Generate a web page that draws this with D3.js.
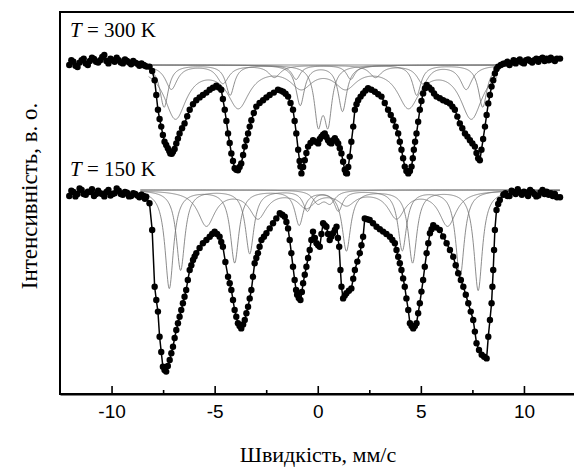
<!DOCTYPE html>
<html><head><meta charset="utf-8">
<script src="https://cdn.jsdelivr.net/npm/d3@7"></script>
<style>body{margin:0;background:#fff}</style></head><body>
<svg id="c" width="574" height="469"></svg>
<script>
// ---------- data ----------
const xMajorTicks = [-10, -5, 0, 5, 10];
const xMinorTicks = [-7.5, -2.5, 2.5, 7.5];
const spectrumLabels = ["300 K", "150 K"];
const offsets = [0.3125, 0];   // vertical shift of the 300 K spectrum

// 300 K: [velocity mm/s, relative transmission]
const spectrum300 = [
[-12.05,1.000],[-11.95,1.012],[-11.85,1.008],[-11.75,0.998],[-11.65,0.995],[-11.55,1.006],[-11.45,1.012],[-11.35,1.016],[-11.25,1.004],[-11.15,1.000],
[-11.05,1.010],[-10.95,1.018],[-10.85,1.015],[-10.75,1.008],[-10.65,1.006],[-10.55,1.012],[-10.45,1.020],[-10.35,1.025],[-10.25,1.010],[-10.15,1.004],
[-10.05,1.016],[-9.95,1.012],[-9.85,1.008],[-9.75,1.018],[-9.65,1.012],[-9.55,1.006],[-9.45,1.004],[-9.35,1.014],[-9.25,1.010],[-9.15,1.006],
[-9.05,1.002],[-8.95,1.010],[-8.85,1.006],[-8.75,1.003],[-8.65,0.998],[-8.55,1.004],[-8.45,1.000],[-8.38,0.998],[-8.30,0.996],
[-8.16,0.996],[-8.03,0.985],[-7.91,0.962],[-7.83,0.925],[-7.75,0.888],[-7.67,0.865],[-7.59,0.846],[-7.51,0.825],[-7.43,0.808],[-7.35,0.800],
[-7.27,0.792],[-7.20,0.785],[-7.15,0.779],[-7.08,0.778],[-7.02,0.783],[-6.94,0.790],[-6.86,0.804],[-6.78,0.816],[-6.70,0.829],[-6.58,0.842],
[-6.46,0.854],[-6.33,0.872],[-6.21,0.888],[-6.05,0.902],[-5.89,0.912],[-5.73,0.919],[-5.57,0.925],[-5.40,0.931],[-5.24,0.938],[-5.08,0.943],
[-4.92,0.948],[-4.80,0.944],[-4.68,0.938],[-4.60,0.915],[-4.51,0.888],[-4.43,0.860],[-4.35,0.829],[-4.27,0.805],[-4.19,0.779],[-4.11,0.760],
[-4.03,0.742],[-3.95,0.738],[-3.87,0.737],[-3.79,0.745],[-3.71,0.754],[-3.62,0.775],[-3.54,0.796],[-3.46,0.812],[-3.38,0.829],[-3.30,0.846],
[-3.22,0.862],[-3.10,0.880],[-2.98,0.896],[-2.82,0.905],[-2.65,0.912],[-2.49,0.919],[-2.33,0.925],[-2.13,0.931],[-1.93,0.938],[-1.80,0.936],
[-1.68,0.933],[-1.56,0.928],[-1.44,0.921],[-1.32,0.905],[-1.20,0.888],[-1.12,0.860],[-1.04,0.829],[-0.95,0.788],[-0.88,0.760],[-0.84,0.746],
[-0.79,0.729],[-0.71,0.745],[-0.63,0.762],[-0.55,0.780],[-0.47,0.796],[-0.35,0.805],[-0.23,0.812],[-0.10,0.808],[0.02,0.804],[0.10,0.815],
[0.18,0.821],[0.26,0.826],[0.34,0.829],[0.42,0.820],[0.50,0.812],[0.58,0.806],[0.66,0.804],[0.75,0.812],[0.83,0.817],[0.91,0.810],
[0.99,0.804],[1.07,0.792],[1.15,0.779],[1.23,0.758],[1.31,0.738],[1.37,0.730],[1.42,0.729],[1.48,0.745],[1.55,0.771],[1.63,0.808],
[1.72,0.846],[1.80,0.888],[1.88,0.902],[1.96,0.912],[2.08,0.921],[2.20,0.929],[2.32,0.936],[2.44,0.942],[2.60,0.938],[2.77,0.933],
[2.93,0.927],[3.09,0.921],[3.25,0.905],[3.41,0.888],[3.54,0.875],[3.66,0.862],[3.78,0.846],[3.90,0.829],[3.98,0.808],[4.06,0.788],
[4.14,0.767],[4.22,0.746],[4.30,0.735],[4.39,0.729],[4.47,0.735],[4.55,0.746],[4.61,0.767],[4.66,0.788],[4.72,0.808],[4.79,0.829],
[4.87,0.858],[4.95,0.888],[5.03,0.910],[5.11,0.929],[5.20,0.942],[5.28,0.950],[5.40,0.944],[5.52,0.938],[5.64,0.929],[5.76,0.921],
[5.92,0.917],[6.08,0.912],[6.25,0.908],[6.41,0.904],[6.53,0.896],[6.65,0.888],[6.77,0.871],[6.89,0.854],[7.01,0.842],[7.14,0.829],
[7.26,0.821],[7.38,0.812],[7.50,0.804],[7.62,0.796],[7.70,0.780],[7.78,0.767],[7.86,0.762],[7.94,0.788],[8.02,0.815],[8.11,0.846],
[8.19,0.875],[8.27,0.904],[8.35,0.925],[8.43,0.946],[8.51,0.962],[8.59,0.979],[8.67,0.990],[8.75,0.996],[8.88,1.000],[9.00,1.003],
[9.10,1.004],[9.20,1.008],[9.30,1.000],[9.40,1.006],[9.50,1.012],[9.60,1.004],[9.70,1.010],[9.80,1.014],[9.90,1.006],[10.00,1.004],
[10.10,1.012],[10.20,1.014],[10.30,1.010],[10.40,1.006],[10.50,1.012],[10.60,1.016],[10.70,1.008],[10.80,1.015],[10.90,1.018],[11.00,1.010],
[11.10,1.016],[11.20,1.012],[11.30,1.018],[11.40,1.014],[11.50,1.010],[11.60,1.016],[11.75,1.016]
];

// 150 K: [velocity mm/s, relative transmission]
const spectrum150 = [
[-12.05,0.985],[-11.95,0.998],[-11.85,0.995],[-11.75,0.984],[-11.65,0.990],[-11.55,1.004],[-11.45,1.000],[-11.35,0.990],[-11.25,0.988],[-11.15,0.996],
[-11.05,0.995],[-10.95,1.002],[-10.85,0.985],[-10.75,0.990],[-10.65,0.998],[-10.55,0.992],[-10.45,0.990],[-10.35,0.984],[-10.25,0.995],[-10.15,1.000],
[-10.05,0.986],[-9.95,0.990],[-9.85,0.992],[-9.75,1.004],[-9.65,0.998],[-9.55,0.990],[-9.45,0.988],[-9.35,0.995],[-9.25,0.993],[-9.15,0.984],
[-9.05,0.985],[-8.95,0.992],[-8.85,0.990],[-8.75,0.986],[-8.65,0.982],[-8.55,0.988],[-8.45,0.985],[-8.38,0.978],[-8.32,0.983],
[-8.16,0.967],[-8.03,0.900],[-7.91,0.758],[-7.83,0.725],[-7.75,0.696],[-7.67,0.633],[-7.59,0.595],[-7.51,0.558],[-7.43,0.550],[-7.35,0.546],
[-7.27,0.560],[-7.18,0.575],[-7.10,0.592],[-7.02,0.608],[-6.94,0.630],[-6.86,0.650],[-6.78,0.667],[-6.70,0.683],[-6.62,0.700],[-6.54,0.717],
[-6.46,0.733],[-6.38,0.750],[-6.30,0.775],[-6.21,0.800],[-6.13,0.812],[-6.05,0.825],[-5.97,0.834],[-5.89,0.842],[-5.73,0.855],[-5.57,0.867],
[-5.40,0.875],[-5.24,0.883],[-5.12,0.890],[-5.00,0.896],[-4.88,0.890],[-4.76,0.883],[-4.68,0.870],[-4.60,0.858],[-4.48,0.820],[-4.35,0.783],
[-4.27,0.767],[-4.19,0.750],[-4.11,0.725],[-4.03,0.700],[-3.95,0.683],[-3.87,0.667],[-3.79,0.660],[-3.71,0.654],[-3.62,0.664],[-3.54,0.675],
[-3.46,0.692],[-3.38,0.708],[-3.30,0.729],[-3.22,0.750],[-3.14,0.783],[-3.06,0.817],[-2.98,0.830],[-2.90,0.842],[-2.82,0.858],[-2.73,0.875],
[-2.61,0.883],[-2.49,0.892],[-2.33,0.904],[-2.17,0.917],[-2.01,0.929],[-1.84,0.942],[-1.72,0.938],[-1.60,0.933],[-1.52,0.920],[-1.44,0.904],
[-1.36,0.875],[-1.28,0.842],[-1.20,0.808],[-1.12,0.775],[-1.05,0.750],[-1.00,0.738],[-0.92,0.730],[-0.84,0.725],[-0.77,0.745],[-0.71,0.767],
[-0.63,0.788],[-0.55,0.808],[-0.47,0.830],[-0.39,0.850],[-0.31,0.875],[-0.23,0.896],[-0.14,0.880],[-0.06,0.867],[0.02,0.862],[0.10,0.858],
[0.18,0.890],[0.26,0.917],[0.34,0.912],[0.42,0.908],[0.50,0.890],[0.58,0.875],[0.66,0.884],[0.74,0.892],[0.83,0.900],[0.91,0.908],
[0.98,0.880],[1.04,0.858],[1.10,0.800],[1.15,0.758],[1.23,0.729],[1.31,0.736],[1.39,0.742],[1.51,0.748],[1.63,0.754],[1.72,0.778],
[1.80,0.800],[1.92,0.821],[2.04,0.842],[2.12,0.862],[2.20,0.883],[2.28,0.929],[2.40,0.927],[2.52,0.925],[2.68,0.917],[2.85,0.908],
[3.01,0.902],[3.17,0.896],[3.33,0.890],[3.50,0.883],[3.62,0.875],[3.74,0.867],[3.82,0.850],[3.90,0.833],[3.98,0.817],[4.06,0.800],
[4.14,0.779],[4.22,0.758],[4.30,0.729],[4.39,0.700],[4.47,0.667],[4.55,0.660],[4.63,0.654],[4.71,0.660],[4.79,0.667],[4.87,0.692],
[4.95,0.717],[5.03,0.746],[5.11,0.775],[5.19,0.808],[5.28,0.842],[5.36,0.867],[5.44,0.892],[5.52,0.902],[5.60,0.912],[5.76,0.906],
[5.92,0.900],[6.08,0.884],[6.25,0.867],[6.41,0.850],[6.57,0.833],[6.69,0.812],[6.81,0.792],[6.94,0.775],[7.06,0.758],[7.18,0.738],
[7.30,0.717],[7.42,0.696],[7.54,0.675],[7.62,0.646],[7.70,0.617],[7.82,0.600],[7.95,0.588],[8.07,0.583],[8.19,0.579],[8.27,0.633],
[8.35,0.675],[8.43,0.717],[8.47,0.758],[8.51,0.800],[8.55,0.850],[8.59,0.900],[8.67,0.950],[8.75,0.965],[8.83,0.975],[9.00,0.988],
[9.10,0.992],[9.20,0.985],[9.30,0.985],[9.40,0.998],[9.50,0.995],[9.60,0.990],[9.70,1.002],[9.80,0.994],[9.90,0.988],[10.00,0.996],
[10.10,0.993],[10.20,0.985],[10.30,1.000],[10.40,0.995],[10.50,0.990],[10.60,0.984],[10.70,0.986],[10.80,0.994],[10.90,1.000],[11.00,0.990],
[11.10,0.996],[11.20,0.988],[11.30,0.992],[11.40,0.985],[11.50,0.990],[11.60,0.982],[11.75,0.982]
];

// fitted sub-spectra: line positions (mm/s), line depths, line width (FWHM, mm/s)
const components300 = [
  {pos:[-7.45,-4.25,-1.05,1.6,4.8,8.0],   depth:[0.105,0.075,0.035,0.035,0.075,0.105], width:0.5},
  {pos:[-6.9,-3.85,-0.8,1.35,4.4,7.45],   depth:[0.13,0.10,0.05,0.05,0.10,0.13],       width:1.3},
  {pos:[-7.1,-4.6,-2.1,2.8,5.1,7.2],      depth:[0.06,0.045,0.03,0.03,0.045,0.06],     width:0.7},
  {pos:[0.02,0.5],                        depth:[0.135,0.135],                         width:0.45},
  {pos:[-0.85,1.2],                       depth:[0.10,0.115],                          width:0.5}
];
const components150 = [
  {pos:[-7.2,-4.03,-0.9,1.39,4.6,7.78],   depth:[0.245,0.18,0.085,0.15,0.18,0.25],     width:0.5},
  {pos:[-6.65,-3.3,-0.5,1.0,4.1,6.9],     depth:[0.20,0.158,0.05,0.05,0.15,0.217],     width:0.5},
  {pos:[-5.4,-2.9,-0.55,1.4,3.82,6.3],    depth:[0.0875,0.067,0.04,0.033,0.067,0.0875], width:1.0},
  {pos:[0.0,0.6],                         depth:[0.03,0.03],                           width:0.6}
];
const componentRanges = [[-8.2, 8.7], [-8.6, 11.75]];

// ---------- chart ----------
const svg = d3.select("#c");
const x = d3.scaleLinear().domain([-12.5, 12.5]).range([60, 575.5]);
const y = d3.scaleLinear().domain([0.49, 1.445]).range([394, 12]);

function lorentz(comp, v){
  let s = 0;
  comp.pos.forEach((p,i)=>{ const t=(v-p)/(comp.width/2); s += comp.depth[i]/(1+t*t); });
  return 1 - s;
}

const spectra = [spectrum300, spectrum150];
const comps = [components300, components150];

spectra.forEach((data, k) => {
  const off = offsets[k];
  const g = svg.append("g");
  const r = componentRanges[k];
  const vs = d3.range(r[0], r[1] + 0.001, 0.02);
  g.append("line").attr("x1", x(r[0])).attr("x2", x(r[1]))
    .attr("y1", y(1 + off)).attr("y2", y(1 + off))
    .attr("stroke", "#6e6e6e").attr("stroke-width", 0.8);
  comps[k].forEach(c => {
    g.append("path")
      .attr("d", d3.line().x(v => x(v)).y(v => y(lorentz(c, v) + off))(vs))
      .attr("fill", "none").attr("stroke", "#6e6e6e").attr("stroke-width", 0.8);
  });
  g.append("path")
    .attr("d", d3.line().x(d => x(d[0])).y(d => y(d[1] + off))(data))
    .attr("fill", "none").attr("stroke", "#000").attr("stroke-width", 1.5);
  g.selectAll("circle").data(data).join("circle")
    .attr("cx", d => x(d[0])).attr("cy", d => y(d[1] + off)).attr("r", 3.2)
    .attr("fill", "#000");
});

// frame
svg.append("rect").attr("x", 60).attr("y", 12).attr("width", 515.5).attr("height", 382)
  .attr("fill", "none").attr("stroke", "#000").attr("stroke-width", 2);

// axis
const ax = svg.append("g").attr("transform", "translate(0,394)")
  .call(d3.axisBottom(x).tickValues(xMajorTicks).tickSizeInner(-8).tickSizeOuter(0)
        .tickPadding(11).tickFormat(d => String(d)));
ax.select(".domain").attr("stroke-width", 2);
ax.selectAll(".tick line").attr("stroke-width", 1.6);
ax.selectAll("text").attr("font-family", "Liberation Sans, Arial, sans-serif").attr("font-size", 19).attr("fill", "#000");
const axm = svg.append("g").attr("transform", "translate(0,394)")
  .call(d3.axisBottom(x).tickValues(xMinorTicks).tickSizeInner(-4).tickSizeOuter(0).tickFormat(""));
axm.select(".domain").remove();
axm.selectAll(".tick line").attr("stroke-width", 1.6);

// labels
const serif = "Liberation Serif, 'Times New Roman', serif";
[[37, spectrumLabels[0]], [176, spectrumLabels[1]]].forEach(([yy, lab]) => {
  const t = svg.append("text").attr("x", 70).attr("y", yy).attr("font-family", serif).attr("font-size", 21);
  t.append("tspan").attr("font-style", "italic").text("T");
  t.append("tspan").text(" = " + lab);
});
svg.append("text").attr("transform", "translate(37,196) rotate(-90)").attr("text-anchor", "middle")
  .attr("font-family", serif).attr("font-size", 23).text("Інтенсивність, в. о.");
svg.append("text").attr("x", 318).attr("y", 462).attr("text-anchor", "middle")
  .attr("font-family", serif).attr("font-size", 22).text("Швидкість, мм/с");
</script></body></html>
